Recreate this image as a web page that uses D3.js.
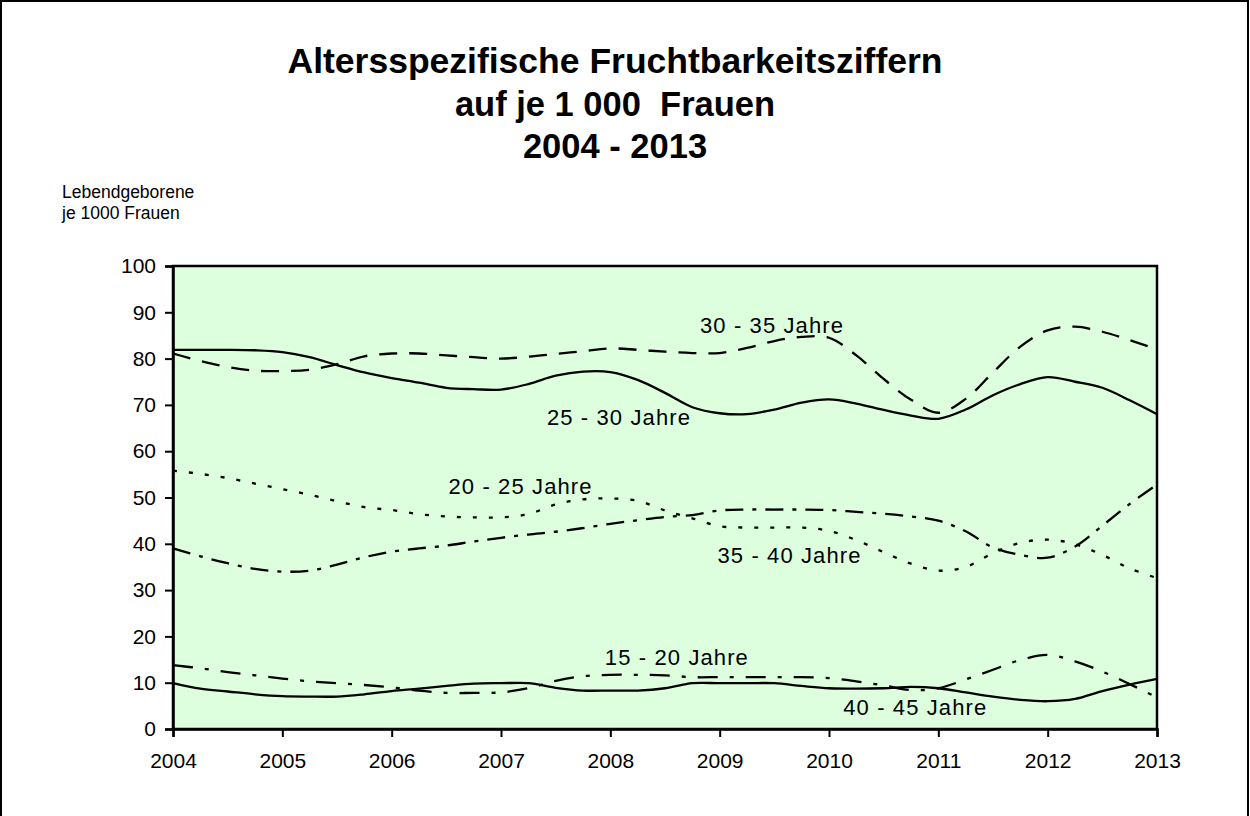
<!DOCTYPE html>
<html><head><meta charset="utf-8">
<script src="https://cdn.jsdelivr.net/npm/d3@7/dist/d3.min.js"></script>
<style>
body{margin:0;background:#fff}
svg{display:block}
text{font-family:Arial,"Liberation Sans",sans-serif;fill:#000}
</style>
</head><body>
<svg id="chart" width="1250" height="816"></svg>
<script>
// ---- data ----
const years = [2004,2005,2006,2007,2008,2009,2010,2011,2012,2013];
const yTicks = [0,10,20,30,40,50,60,70,80,90,100];
const quarters = [
  2004,2004.25,2004.5,2004.75, 2005,2005.25,2005.5,2005.75,
  2006,2006.25,2006.5,2006.75, 2007,2007.25,2007.5,2007.75,
  2008,2008.25,2008.5,2008.75, 2009,2009.25,2009.5,2009.75,
  2010,2010.25,2010.5,2010.75, 2011,2011.25,2011.5,2011.75,
  2012,2012.25,2012.5,2012.75, 2013];
const seriesNames = ["15 - 20 Jahre","20 - 25 Jahre","25 - 30 Jahre","30 - 35 Jahre","35 - 40 Jahre","40 - 45 Jahre"];
const s1520 = [13.8,13.1,12.3,11.6, 10.9,10.3,9.9,9.5, 9.0,8.3,7.8,7.8, 7.9,8.8,10.4,11.4,
  11.7,11.7,11.6,11.2, 11.2,11.2,11.2,11.2, 11.0,10.3,9.4,8.4, 8.8,10.7,12.8,14.9, 16.0,14.6,12.4,9.7, 6.8];
const s2025 = [55.8,55.1,54.2,53.0, 51.8,50.6,49.2,47.9, 47.3,46.4,45.9,45.7, 45.7,46.4,48.5,49.6,
  49.8,49.3,47.2,45.5, 43.8,43.5,43.5,43.5, 42.8,40.8,38.2,35.7, 34.2,35.0,38.0,40.2, 40.9,39.9,37.6,34.7, 32.6];
const s2530 = [81.9,81.9,81.9,81.8, 81.4,80.3,78.6,77.0, 75.8,74.8,73.7,73.4, 73.3,74.5,76.3,77.2,
  77.1,75.4,72.6,69.5, 68.2,68.0,69.0,70.5, 71.2,70.3,68.9,67.7, 67.0,69.0,72.1,74.5, 76.0,75.0,73.7,71.0, 68.0];
const s3035 = [81.1,79.5,78.2,77.4, 77.3,77.6,78.8,80.5, 81.1,81.1,80.7,80.3, 80.0,80.4,81.0,81.6,
  82.2,81.9,81.5,81.2, 81.2,82.3,83.8,84.7, 84.5,80.7,75.6,71.1, 68.3,71.3,77.0,82.6, 86.1,86.9,85.8,84.0, 82.0];
const s3540 = [39.0,37.3,35.8,34.6, 34.0,34.2,35.5,37.1, 38.3,39.0,39.6,40.5, 41.3,42.0,42.6,43.4,
  44.3,45.1,45.8,46.2, 47.2,47.4,47.4,47.4, 47.3,46.9,46.5,45.9, 45.0,42.7,39.2,37.6, 37.0,39.4,43.9,48.6, 52.8];
const s4045 = [9.9,8.7,8.1,7.5, 7.1,7.0,7.0,7.5, 8.2,8.7,9.3,9.8, 9.9,9.9,8.9,8.3,
  8.3,8.3,8.8,9.9, 9.9,9.9,9.9,9.3, 8.8,8.7,8.8,9.1, 8.8,7.9,7.0,6.3, 6.0,6.5,8.2,9.6, 10.8];
const seriesValues = [s1520,s2025,s2530,s3035,s3540,s4045];
// label anchors in data space (year, value)
const labelAnchors = [[2007.95,13.8],[2006.52,50.8],[2007.42,65.7],[2008.82,85.5],[2008.98,35.9],[2010.13,3.0]];

// ---- styles ----
const dashes = ["20,12,4,12","4,12",null,"18,12","18,9,4,9",null];

const svg = d3.select("#chart");
const M = {left:173, top:266, right:1157, bottom:729};
const x = d3.scaleLinear().domain([2004,2013]).range([M.left, M.right]);
const y = d3.scaleLinear().domain([0,100]).range([M.bottom, M.top]);

// outer frame
svg.append("rect").attr("x",1).attr("y",1).attr("width",1247).attr("height",840)
  .attr("fill","none").attr("stroke","#000").attr("stroke-width",2);

// title
const title = ["Altersspezifische Fruchtbarkeitsziffern","auf je 1 000  Frauen","2004 - 2013"];
const tb = [73,116,158];
const tsize = ["35.5px","34.5px","34.5px"];
title.forEach((t,i)=>{
  svg.append("text").attr("x",615).attr("y",tb[i]).attr("text-anchor","middle")
    .style("font-size",tsize[i]).style("font-weight","bold").style("white-space","pre").text(t);
});

// axis title
svg.append("text").attr("x",62).attr("y",198).style("font-size","17.5px").text("Lebendgeborene");
svg.append("text").attr("x",62).attr("y",219).style("font-size","17.5px").text("je 1000 Frauen");

// plot area
svg.append("rect").attr("x",M.left).attr("y",M.top).attr("width",M.right-M.left).attr("height",M.bottom-M.top)
  .attr("fill","#ddffdd").attr("stroke","#000").attr("stroke-width",2.5);

// lines
const line = d3.line().x((d,i)=>x(quarters[i])).y(d=>y(d)).curve(d3.curveCatmullRom.alpha(0.5));
seriesValues.forEach((vals,k)=>{
  const p = svg.append("path").datum(vals).attr("d",line)
    .attr("fill","none").attr("stroke","#000").attr("stroke-width",2.3);
  if (dashes[k]) p.attr("stroke-dasharray",dashes[k]);
});

// labels
seriesNames.forEach((n,k)=>{
  svg.append("text").attr("x",x(labelAnchors[k][0])).attr("y",y(labelAnchors[k][1]))
    .style("font-size","22px").attr("textLength",143).attr("lengthAdjust","spacing").text(n);
});

// axes
const ax = svg.append("g").attr("transform",`translate(${M.left},0)`)
  .call(d3.axisLeft(y).tickValues(yTicks).tickSize(8).tickPadding(9).tickFormat(d3.format("d")));
const bx = svg.append("g").attr("transform",`translate(0,${M.bottom})`)
  .call(d3.axisBottom(x).tickValues(years).tickSize(8).tickPadding(16).tickFormat(d3.format("d")));
[ax,bx].forEach(g=>{
  g.select(".domain").attr("stroke","#000").attr("stroke-width",2.5);
  g.selectAll(".tick line").attr("stroke","#000").attr("stroke-width",2);
  g.selectAll(".tick text").style("font-size","21px").attr("fill","#000")
    .style("font-family","Arial, 'Liberation Sans', sans-serif");
});
</script>
</body></html>
